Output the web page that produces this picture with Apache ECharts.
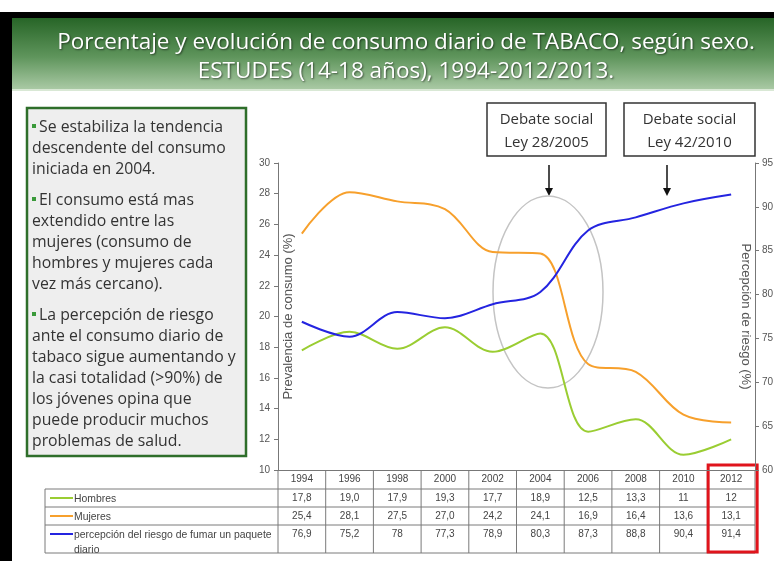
<!DOCTYPE html>
<html>
<head>
<meta charset="utf-8">
<script src="https://cdn.jsdelivr.net/npm/echarts@6/dist/echarts.min.js"></script>
<style>
  html, body { margin: 0; padding: 0; background: #fff; }
  #main { width: 774px; height: 561px; }
</style>
</head>
<body>
<div id="main"></div>
<script>
// datos ESTUDES 1994-2012 (como en la tabla, coma decimal)
var years = ['1994', '1996', '1998', '2000', '2002', '2004', '2006', '2008', '2010', '2012']
var hombres = ['17,8', '19,0', '17,9', '19,3', '17,7', '18,9', '12,5', '13,3', '11', '12']
var mujeres = ['25,4', '28,1', '27,5', '27,0', '24,2', '24,1', '16,9', '16,4', '13,6', '13,1']
var percepcion = ['76,9', '75,2', '78', '77,3', '78,9', '80,3', '87,3', '88,8', '90,4', '91,4']

var seriesNames = ['Hombres', 'Mujeres', 'percepción del riesgo de fumar un paquete\ndiario']
var seriesColors = ['#9acd32', '#f7a02c', '#2424e0']

var num = function (s) { return parseFloat(s.replace(',', '.')) }

var gridLeft = 278
var gridRight = 19
var gridTop = 163
var gridBottom = 91

var chart = echarts.init(document.getElementById('main'))

var axisFont = { color: '#555', fontSize: 10, fontFamily: 'Liberation Sans' }
var nameFont = { color: '#555', fontSize: 13, fontFamily: 'Liberation Sans' }

var option = {
  animation: false,
  grid: { left: gridLeft, right: gridRight, top: gridTop, bottom: gridBottom, outerBoundsMode: 'none', containLabel: false },
  xAxis: {
    type: 'category',
    data: years,
    boundaryGap: true,
    axisLine: { lineStyle: { color: '#777' } },
    axisTick: { show: false },
    axisLabel: { show: false },
    splitLine: { show: false }
  },
  yAxis: [
    {
      type: 'value',
      min: 10,
      max: 30,
      interval: 2,
      name: 'Prevalencia de consumo (%)',
      nameLocation: 'middle',
      nameRotate: 90,
      nameGap: -17,
      nameMoveOverlap: false,
      nameTextStyle: nameFont,
      axisLine: { show: true, lineStyle: { color: '#777' } },
      axisTick: { show: true, length: 4, lineStyle: { color: '#777' } },
      axisLabel: Object.assign({ margin: 8 }, axisFont),
      splitLine: { show: false }
    },
    {
      type: 'value',
      min: 60,
      max: 95,
      interval: 5,
      position: 'right',
      name: 'Percepción de riesgo (%)',
      nameLocation: 'middle',
      nameRotate: -90,
      nameGap: -16,
      nameMoveOverlap: false,
      nameTextStyle: nameFont,
      axisLine: { show: true, lineStyle: { color: '#777' } },
      axisTick: { show: true, length: 4, lineStyle: { color: '#777' } },
      axisLabel: Object.assign({ margin: 7 }, axisFont),
      splitLine: { show: false }
    }
  ],
  series: [
    {
      name: 'Hombres',
      type: 'line',
      smooth: 0.35,
      symbol: 'none',
      lineStyle: { width: 2, color: seriesColors[0] },
      data: hombres.map(num)
    },
    {
      name: 'Mujeres',
      type: 'line',
      smooth: 0.35,
      symbol: 'none',
      lineStyle: { width: 2, color: seriesColors[1] },
      data: mujeres.map(num)
    },
    {
      name: 'percepción',
      type: 'line',
      yAxisIndex: 1,
      smooth: 0.35,
      symbol: 'none',
      lineStyle: { width: 2, color: seriesColors[2] },
      data: percepcion.map(num)
    }
  ]
}
chart.setOption(option)

// --- elementos de la diapositiva y tabla de datos ---
var g = []
var txtFont = '15.8px "Open Sans"'

// marco negro y cabecera verde
g.push({ type: 'rect', shape: { x: 0, y: 12, width: 774, height: 6 }, style: { fill: '#000' } })
g.push({ type: 'rect', shape: { x: 0, y: 12, width: 12, height: 549 }, style: { fill: '#000' } })
g.push({
  type: 'rect',
  shape: { x: 12, y: 18, width: 762, height: 71 },
  style: {
    fill: new echarts.graphic.LinearGradient(0, 0, 0, 1, [
      { offset: 0, color: '#276527' },
      { offset: 0.55, color: '#5f955c' },
      { offset: 1, color: '#a9c9a4' }
    ])
  }
})
g.push({ type: 'rect', shape: { x: 12, y: 89, width: 762, height: 2 }, style: { fill: '#d9e8d5' } })
var titleLines = ['Porcentaje y evolución de consumo diario de TABACO, según sexo.', 'ESTUDES (14-18 años), 1994-2012/2013.']
titleLines.forEach(function (t, i) {
  g.push({
    type: 'text',
    x: 406,
    y: 43 + i * 29,
    style: {
      text: t,
      font: '22.5px "Open Sans"',
      fill: '#fff',
      align: 'center',
      verticalAlign: 'middle',
      textShadowColor: 'rgba(0,0,0,0.55)',
      textShadowBlur: 2,
      textShadowOffsetX: 1,
      textShadowOffsetY: 1
    }
  })
})

// cuadro de texto
g.push({
  type: 'rect',
  shape: { x: 27, y: 108, width: 219, height: 348 },
  style: { fill: '#eeeeee', stroke: '#2e6e2a', lineWidth: 2.5 }
})
var paras = [
  ['Se estabiliza la tendencia', 'descendente del consumo', 'iniciada en 2004.'],
  ['El consumo está mas', 'extendido entre las', 'mujeres (consumo de', 'hombres y mujeres cada', 'vez más cercano).'],
  ['La percepción de riesgo', 'ante el consumo diario de', 'tabaco sigue aumentando y', 'la casi totalidad (>90%) de', 'los jóvenes opina que', 'puede producir muchos', 'problemas de salud.']
]
var ly = 127
paras.forEach(function (p) {
  p.forEach(function (line, j) {
    if (j === 0) {
      g.push({ type: 'rect', shape: { x: 32, y: ly - 3, width: 4, height: 4 }, style: { fill: '#3a9a3a' } })
    }
    g.push({
      type: 'text',
      x: j === 0 ? 39 : 32,
      y: ly,
      style: { text: line, font: txtFont, fill: '#333', verticalAlign: 'middle' }
    })
    ly += 21
  })
  ly += 10
})

// cuadros "Debate social"
var boxes = [
  { x: 487, w: 119, t: ['Debate social', 'Ley 28/2005'], ax: 549 },
  { x: 624, w: 131, t: ['Debate social', 'Ley 42/2010'], ax: 667 }
]
boxes.forEach(function (b) {
  g.push({ type: 'rect', shape: { x: b.x, y: 103, width: b.w, height: 53 }, style: { fill: '#fff', stroke: '#333', lineWidth: 1.5 } })
  b.t.forEach(function (t, i) {
    g.push({
      type: 'text',
      x: b.x + b.w / 2,
      y: 120 + i * 23,
      style: { text: t, font: '15px "Open Sans"', fill: '#333', align: 'center', verticalAlign: 'middle' }
    })
  })
  g.push({ type: 'line', shape: { x1: b.ax, y1: 165, x2: b.ax, y2: 190 }, style: { stroke: '#111', lineWidth: 1.5 } })
  g.push({ type: 'polygon', shape: { points: [[b.ax - 4, 188], [b.ax + 4, 188], [b.ax, 196]] }, style: { fill: '#111' } })
})

// elipse 2004-2006
g.push({
  type: 'ellipse',
  z: 0,
  shape: { cx: 548, cy: 292, rx: 55, ry: 96 },
  style: { fill: 'none', stroke: '#c4c4c4', lineWidth: 1.5 }
})

// tabla de datos
var xs = years.map(function (y) { return chart.convertToPixel({ xAxisIndex: 0 }, y) })
var cellW = xs[1] - xs[0]
var plotRight = 774 - gridRight
var tblLeft = 45
var rowY = [470, 489, 507, 525, 553]
var lineCol = '#7a7a7a'
var tblFont = '10px "Liberation Sans"'

rowY.slice(1).forEach(function (y) {
  g.push({ type: 'line', shape: { x1: tblLeft, y1: y, x2: plotRight, y2: y }, style: { stroke: lineCol, lineWidth: 1 } })
})
g.push({ type: 'line', shape: { x1: tblLeft, y1: rowY[1], x2: tblLeft, y2: rowY[4] }, style: { stroke: lineCol, lineWidth: 1 } })
for (var k = 0; k <= years.length; k++) {
  var bx = xs[0] - cellW / 2 + k * cellW
  g.push({ type: 'line', shape: { x1: bx, y1: rowY[0], x2: bx, y2: rowY[4] }, style: { stroke: lineCol, lineWidth: 1 } })
}
years.forEach(function (y, i) {
  g.push({ type: 'text', x: xs[i], y: (rowY[0] + rowY[1]) / 2, style: { text: y, font: tblFont, fill: '#444', align: 'center', verticalAlign: 'middle' } })
})
var tableRows = [hombres, mujeres, percepcion]
tableRows.forEach(function (row, r) {
  var cy = r === 2 ? rowY[r + 1] + 9 : (rowY[r + 1] + rowY[r + 2]) / 2
  row.forEach(function (v, i) {
    g.push({ type: 'text', x: xs[i], y: cy, style: { text: v, font: tblFont, fill: '#444', align: 'center', verticalAlign: 'middle' } })
  })
  g.push({ type: 'line', shape: { x1: 50, y1: cy, x2: 73, y2: cy }, style: { stroke: seriesColors[r], lineWidth: 2 } })
  g.push({
    type: 'text',
    x: 74,
    y: cy - 6,
    style: { text: seriesNames[r], font: '10.4px "Liberation Sans"', fill: '#444', lineHeight: 15, verticalAlign: 'top' }
  })
})

// recuadro rojo 2012
var lastX = xs[xs.length - 1]
g.push({
  type: 'rect',
  shape: { x: lastX - 23, y: 465, width: 49, height: 87 },
  style: { fill: 'none', stroke: '#e0141c', lineWidth: 3 }
})

chart.setOption({ graphic: { elements: g } })
</script>
</body>
</html>
